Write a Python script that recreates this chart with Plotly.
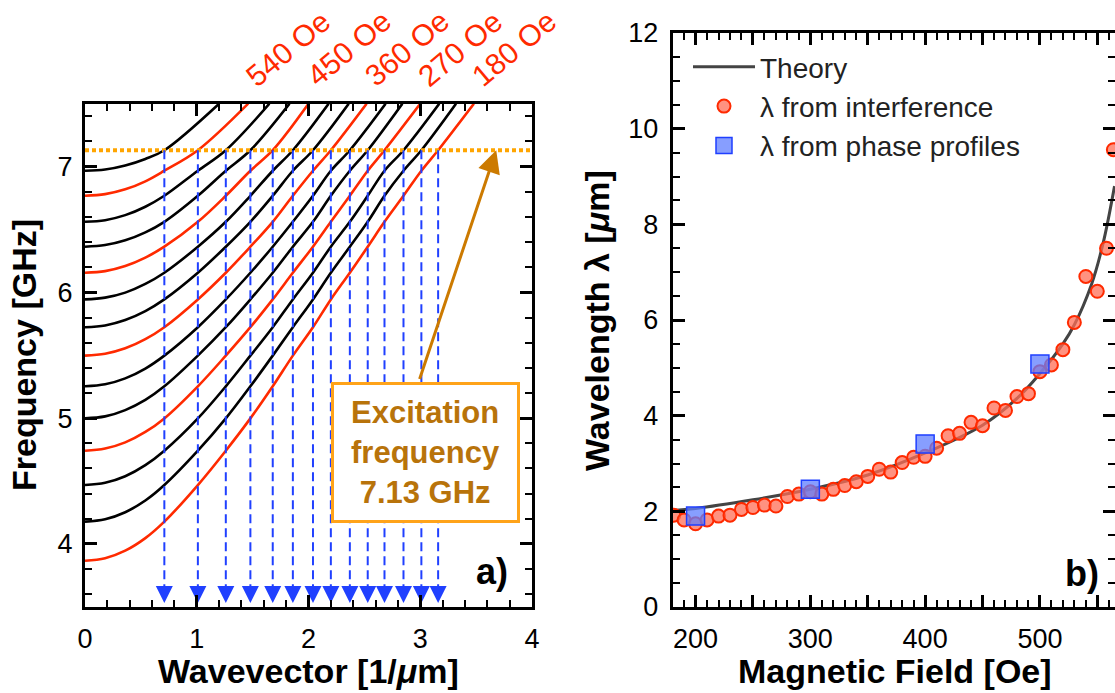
import plotly.graph_objects as go

# ---------------- panel a: dispersion curves ----------------
# wavevectors [1/um] where each curve meets the excitation frequency (arrows)
K_ARROW = [0.71, 1.01, 1.26, 1.48, 1.68, 1.86, 2.04, 2.20, 2.37, 2.53, 2.68, 2.85, 3.01, 3.16]
# shared wavevector grid for the tabulated curve points
K_GRID = [0.0, 0.18, 0.36, 0.54] + K_ARROW
# applied fields [Oe], top curve first
FIELDS = [570, 540, 510, 480, 450, 420, 390, 360, 330, 300, 270, 240, 210, 180]
LABELLED = [540, 450, 360, 270, 180]
# frequencies [GHz] of each curve on K_GRID (until it reaches 7.13 GHz)
DISPERSION = {
    570: [6.967, 6.977, 7.009, 7.061, 7.13],
    540: [6.768, 6.781, 6.819, 6.883, 6.967, 7.13],
    510: [6.561, 6.574, 6.614, 6.681, 6.768, 6.967, 7.13],
    480: [6.363, 6.376, 6.414, 6.477, 6.561, 6.768, 6.967, 7.13],
    450: [6.156, 6.169, 6.209, 6.276, 6.363, 6.561, 6.768, 6.967, 7.13],
    420: [5.944, 5.958, 5.998, 6.067, 6.156, 6.363, 6.561, 6.768, 6.967, 7.13],
    390: [5.723, 5.737, 5.780, 5.851, 5.944, 6.156, 6.363, 6.561, 6.768, 6.967, 7.13],
    360: [5.497, 5.512, 5.555, 5.628, 5.723, 5.944, 6.156, 6.363, 6.561, 6.768, 6.967, 7.13],
    330: [5.253, 5.269, 5.316, 5.394, 5.497, 5.723, 5.944, 6.156, 6.363, 6.561, 6.768, 6.967,
          7.13],
    300: [4.998, 5.014, 5.064, 5.145, 5.253, 5.497, 5.723, 5.944, 6.156, 6.363, 6.561, 6.768,
          6.967, 7.13],
    270: [4.741, 4.758, 4.807, 4.890, 4.998, 5.253, 5.497, 5.723, 5.944, 6.156, 6.363, 6.561,
          6.768, 6.967, 7.13],
    240: [4.468, 4.486, 4.538, 4.626, 4.741, 4.998, 5.253, 5.497, 5.723, 5.944, 6.156, 6.363,
          6.561, 6.768, 6.967, 7.13],
    210: [4.177, 4.196, 4.252, 4.345, 4.468, 4.741, 4.998, 5.253, 5.497, 5.723, 5.944, 6.156,
          6.363, 6.561, 6.768, 6.967, 7.13],
    180: [3.866, 3.886, 3.946, 4.046, 4.177, 4.468, 4.741, 4.998, 5.253, 5.497, 5.723, 5.944,
          6.156, 6.363, 6.561, 6.768, 6.967, 7.13],
}
# wavevector where each curve leaves the frame at the top (7.5 GHz)
K_TOP = [1.20, 1.46, 1.65, 1.83, 2.00, 2.18, 2.36, 2.52, 2.69, 2.84, 3.00, 3.17, 3.32, 3.48]
F_TOP = 7.5
F_EXC = 7.13          # excitation frequency [GHz]
F_ARROW_TIP = 3.53
F_ARROW_BASE = 3.66

# ---------------- panel b: wavelength vs field ----------------
THEORY_FIELD = [180, 200, 250, 300, 350, 400, 450, 480, 500, 520, 530, 545, 555, 565]
THEORY_LAMBDA = [2.02, 2.06, 2.24, 2.46, 2.76, 3.22, 3.80, 4.36, 4.88, 5.50, 5.90, 6.75, 7.60, 8.80]
INTERF_FIELD = [181, 190, 200, 210, 220, 230, 240, 250, 260, 270, 280, 290, 300, 310, 320,
                330, 340, 350, 360, 370, 380, 390, 400, 410, 420, 430, 440, 450, 460, 470,
                480, 490, 500, 510, 520, 530, 540, 550, 558, 564]
INTERF_LAMBDA = [1.92, 1.82, 1.74, 1.82, 1.90, 1.92, 2.04, 2.08, 2.13, 2.11, 2.31, 2.36, 2.41, 2.36,
                 2.46, 2.54, 2.62, 2.73, 2.88, 2.82, 3.02, 3.13, 3.15, 3.32, 3.58, 3.63, 3.86, 3.79,
                 4.16, 4.11, 4.40, 4.46, 4.92, 5.06, 5.38, 5.95, 6.91, 6.60, 7.50, 9.56]
PHASE_FIELD = [200, 300, 400, 500]
PHASE_LAMBDA = [1.90, 2.46, 3.41, 5.08]

# ---------------- styling ----------------
W, H = 1115, 693
FONT = "Liberation Sans, Arial, Helvetica, sans-serif"
BLACK = "#000000"
RED = "#ff2a00"
BLUE = "#2040ff"
ORANGE = "#ffa500"
BROWN = "#b8730a"


def px_x(p):
    return p / W


def px_y(p):
    return (H - p) / H


fig = go.Figure()

# dispersion curves
for i, field in enumerate(FIELDS):
    freqs = DISPERSION[field]
    ks = K_GRID[:len(freqs)] + [K_TOP[i]]
    fs = freqs + [F_TOP]
    fig.add_trace(go.Scatter(
        x=ks, y=fs, mode="lines", xaxis="x", yaxis="y", showlegend=False,
        line=dict(color=RED if field in LABELLED else BLACK, width=2.6,
                  shape="spline", smoothing=1.0),
        hoverinfo="skip"))

# excitation frequency line
fig.add_trace(go.Scatter(
    x=[0, 4], y=[F_EXC, F_EXC], mode="lines", xaxis="x", yaxis="y", showlegend=False,
    line=dict(color=ORANGE, width=4, dash="4px,3px"), hoverinfo="skip"))

# dashed drop lines with arrow heads
drop_x, drop_y = [], []
for k in K_ARROW:
    drop_x += [k, k, None]
    drop_y += [F_EXC, F_ARROW_BASE, None]
fig.add_trace(go.Scatter(
    x=drop_x, y=drop_y, mode="lines", xaxis="x", yaxis="y", showlegend=False,
    line=dict(color=BLUE, width=2, dash="9px,5px"), hoverinfo="skip"))
fig.add_trace(go.Scatter(
    x=K_ARROW, y=[F_ARROW_TIP] * len(K_ARROW), mode="markers", xaxis="x", yaxis="y",
    showlegend=False, marker=dict(symbol="arrow-down", size=17, color=BLUE),
    hoverinfo="skip"))

# panel b traces
fig.add_trace(go.Scatter(
    x=THEORY_FIELD, y=THEORY_LAMBDA, mode="lines", xaxis="x2", yaxis="y2",
    name="Theory", line=dict(color="#444444", width=3, shape="spline", smoothing=1.0)))
fig.add_trace(go.Scatter(
    x=INTERF_FIELD, y=INTERF_LAMBDA, mode="markers", xaxis="x2", yaxis="y2",
    name="λ from interference",
    marker=dict(symbol="circle", size=13, color="rgba(255,110,85,0.75)",
                line=dict(color="#ff2a00", width=2))))
fig.add_trace(go.Scatter(
    x=PHASE_FIELD, y=PHASE_LAMBDA, mode="markers", xaxis="x2", yaxis="y2",
    name="λ from phase profiles",
    marker=dict(symbol="square", size=18, color="rgba(95,125,255,0.75)",
                line=dict(color="#1f3fff", width=1.5))))

axis_common = dict(
    showline=True, linecolor=BLACK, linewidth=3, mirror="ticks",
    ticks="inside", ticklen=12, tickwidth=2.5, tickcolor=BLACK,
    showgrid=False, zeroline=False, automargin=False,
    tickfont=dict(family=FONT, size=27, color=BLACK),
)
minor_common = dict(ticks="inside", ticklen=7, tickwidth=2, tickcolor=BLACK,
                    tick0=0, showgrid=False)

fig.update_layout(
    width=W, height=H,
    margin=dict(l=0, r=0, t=0, b=0, autoexpand=False),
    paper_bgcolor="white", plot_bgcolor="white",
    font=dict(family=FONT, color=BLACK),
    xaxis=dict(axis_common, domain=[px_x(85), px_x(532)], range=[0, 4],
               tickmode="linear", tick0=0, dtick=1, anchor="y", ticklabelstandoff=6,
               minor=dict(minor_common, dtick=0.2)),
    yaxis=dict(axis_common, domain=[px_y(606.8), px_y(103.7)], range=[3.5, 7.5],
               tickmode="linear", tick0=0, dtick=1, anchor="x", ticklabelstandoff=4,
               minor=dict(minor_common, dtick=0.2)),
    xaxis2=dict(axis_common, domain=[px_x(672.6), 1.0], range=[180, 565.4],
                tickmode="array", tickvals=[200, 250, 300, 350, 400, 450, 500, 550],
                ticktext=["200", "", "300", "", "400", "", "500", ""],
                anchor="y2", ticklabelstandoff=6,
                minor=dict(minor_common, dtick=10)),
    yaxis2=dict(axis_common, domain=[px_y(607), px_y(33)], range=[0, 12],
                tickmode="linear", tick0=0, dtick=2, anchor="x2", ticklabelstandoff=6,
                minor=dict(minor_common, dtick=0.5)),
    legend=dict(x=px_x(688), y=px_y(42), xanchor="left", yanchor="top",
                bgcolor="rgba(0,0,0,0)", borderwidth=0, itemwidth=62,
                font=dict(family=FONT, size=28, color="#222222"), tracegroupgap=0),
    showlegend=True,
)

annotations = []

# field labels above the red curves
for i, field in enumerate(FIELDS):
    if field in LABELLED:
        annotations.append(dict(
            x=K_TOP[i], y=F_TOP, xref="x", yref="y", text=f"{field} Oe",
            showarrow=False, textangle=-40, xanchor="center", yanchor="middle",
            xshift=40, yshift=55, font=dict(family=FONT, size=30, color=RED)))

# arrow to the excitation line
annotations.append(dict(
    x=3.68, y=F_EXC, ax=2.99, ay=5.30, xref="x", yref="y", axref="x", ayref="y",
    text="", showarrow=True, arrowhead=2, arrowsize=1.5, arrowwidth=3,
    arrowcolor="#cc7a00", standoff=0))

# excitation frequency box
annotations.append(dict(
    x=3.047, y=4.729, xref="x", yref="y", showarrow=False,
    text="<b>Excitation<br>frequency<br>7.13 GHz</b>",
    font=dict(family=FONT, size=31, color=BROWN), align="center",
    bgcolor="white", bordercolor="#ffa319", borderwidth=3, borderpad=4,
    width=175, height=127, xanchor="center", yanchor="middle"))

# panel tags
annotations.append(dict(x=px_x(491.7), y=px_y(571.7), xref="paper", yref="paper",
                        text="<b>a)</b>", showarrow=False, xanchor="center", yanchor="middle",
                        font=dict(family=FONT, size=36, color=BLACK)))
annotations.append(dict(x=px_x(1082), y=px_y(573), xref="paper", yref="paper",
                        text="<b>b)</b>", showarrow=False, xanchor="center", yanchor="middle",
                        font=dict(family=FONT, size=36, color=BLACK)))

# axis titles
title_font = dict(family=FONT, size=34, color=BLACK)
annotations.append(dict(x=px_x(308.5), y=px_y(671), xref="paper", yref="paper",
                        text="<b>Wavevector [1/<i>μ</i>m]</b>", showarrow=False,
                        xanchor="center", yanchor="middle", font=title_font))
annotations.append(dict(x=px_x(24), y=px_y(355), xref="paper", yref="paper",
                        text="<b>Frequency [GHz]</b>", showarrow=False, textangle=-90,
                        xanchor="center", yanchor="middle", font=title_font))
annotations.append(dict(x=px_x(895), y=px_y(671), xref="paper", yref="paper",
                        text="<b>Magnetic Field [Oe]</b>", showarrow=False,
                        xanchor="center", yanchor="middle", font=title_font))
annotations.append(dict(x=px_x(597), y=px_y(320), xref="paper", yref="paper",
                        text="<b>Wavelength λ [<i>μ</i>m]</b>", showarrow=False, textangle=-90,
                        xanchor="center", yanchor="middle", font=title_font))

fig.update_layout(annotations=annotations)

fig.write_html("out.html")
